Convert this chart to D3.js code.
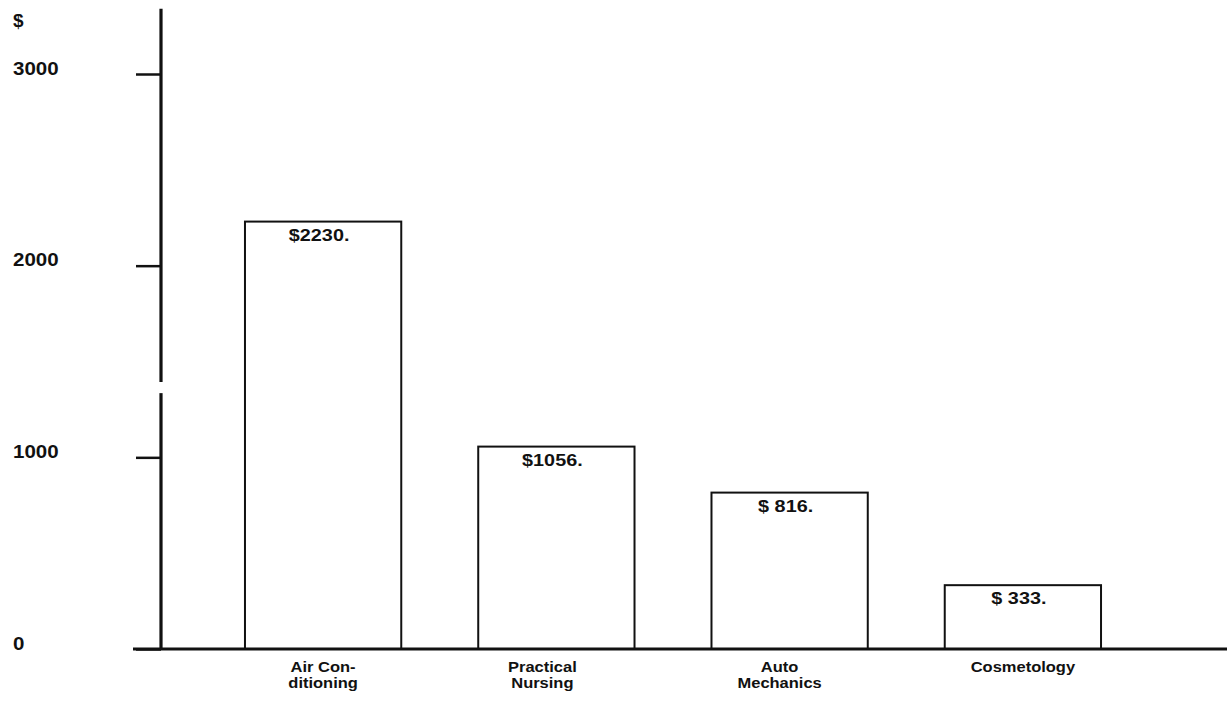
<!DOCTYPE html>
<html>
<head>
<meta charset="utf-8">
<script src="https://cdn.jsdelivr.net/npm/d3@7"></script>
<style>
  body { margin: 0; background: #fff; }
  svg { display: block; background: #fff; }
  text { font-family: "Liberation Sans", Arial, Helvetica, sans-serif; font-weight: bold; fill: #111; }
</style>
</head>
<body>
<svg id="chart" width="1227" height="702"></svg>
<script>
// Average cost per trainee by course
const categories = [["Air Con-", "ditioning"], ["Practical", "Nursing"], ["Auto", "Mechanics"], ["Cosmetology"]];
const costs = [2230, 1056, 816, 333];
const valueLabels = ["$2230.", "$1056.", "$ 816.", "$ 333."];
const tickValues = [0, 1000, 2000, 3000];
const tickLabels = ["0", "1000", "2000", "3000"];
const axisBreak = [1335, 1393];   // gap drawn in the vertical axis
const axisTop = 3340;

const svg = d3.select("#chart");

const y = d3.scaleLinear().domain([0, 3000]).range([649, 74]);
const x = d3.scaleBand()
  .domain(d3.range(costs.length))
  .range([168, 1178])
  .paddingInner(0.33)
  .paddingOuter(0.33);

const axisX = 161;

// Vertical axis with ticks and labels
const axis = d3.axisLeft(y)
  .tickValues(tickValues)
  .tickSize(25)
  .tickFormat((d, i) => tickLabels[i]);

const gAxis = svg.append("g")
  .attr("transform", `translate(${axisX},0)`)
  .call(axis);
gAxis.select(".domain").remove();
gAxis.selectAll(".tick line").attr("stroke", "#111").attr("stroke-width", 2.5);
const tickScale = 1.08;
gAxis.selectAll(".tick text")
  .attr("text-anchor", "start")
  .attr("x", (13 - axisX) / tickScale)
  .attr("dy", "0")
  .attr("transform", `scale(${tickScale},1)`)
  .style("font-size", "19px")
  .style("font-family", "\"Liberation Sans\", Arial, sans-serif")
  .style("font-weight", "bold")
  .attr("fill", "#111");

svg.append("text")
  .attr("x", 13).attr("y", 27)
  .style("font-size", "19px")
  .text("$");

// Axis line, broken into two pieces
const axisSegments = [[0, axisBreak[0]], [axisBreak[1], axisTop]];
svg.selectAll("line.axis-seg")
  .data(axisSegments)
  .join("line")
  .attr("class", "axis-seg")
  .attr("x1", axisX).attr("x2", axisX)
  .attr("y1", d => y(d[0])).attr("y2", d => y(d[1]))
  .attr("stroke", "#111")
  .attr("stroke-width", 3.2);

// Bars
svg.selectAll("rect.bar")
  .data(costs)
  .join("rect")
  .attr("class", "bar")
  .attr("x", (d, i) => x(i))
  .attr("y", d => y(d))
  .attr("width", x.bandwidth())
  .attr("height", d => y(0) - y(d))
  .attr("fill", "#fff")
  .attr("stroke", "#111")
  .attr("stroke-width", 2);

// Baseline
svg.append("line")
  .attr("x1", 133).attr("x2", 1227)
  .attr("y1", y(0)).attr("y2", y(0))
  .attr("stroke", "#111")
  .attr("stroke-width", 3.2);

// Value labels inside the top of each bar
svg.selectAll("g.value")
  .data(costs)
  .join("g")
  .attr("class", "value")
  .attr("transform", (d, i) => `translate(${x(i) + x.bandwidth() / 2 - 4},${y(d) + 19}) scale(1.2,1)`)
  .append("text")
  .attr("text-anchor", "middle")
  .style("font-size", "16.5px")
  .text((d, i) => valueLabels[i]);

// Category labels under the baseline
const catShift = [0, -14, -10, 0];
const cat = svg.selectAll("g.cat")
  .data(categories)
  .join("g")
  .attr("class", "cat")
  .attr("transform", (d, i) => `translate(${x(i) + x.bandwidth() / 2 + catShift[i]},${y(0) + 23}) scale(1.1,1)`);
cat.selectAll("text")
  .data(d => d)
  .join("text")
  .attr("text-anchor", "middle")
  .attr("y", (d, j) => j * 16)
  .style("font-size", "15px")
  .text(d => d);
</script>
</body>
</html>
